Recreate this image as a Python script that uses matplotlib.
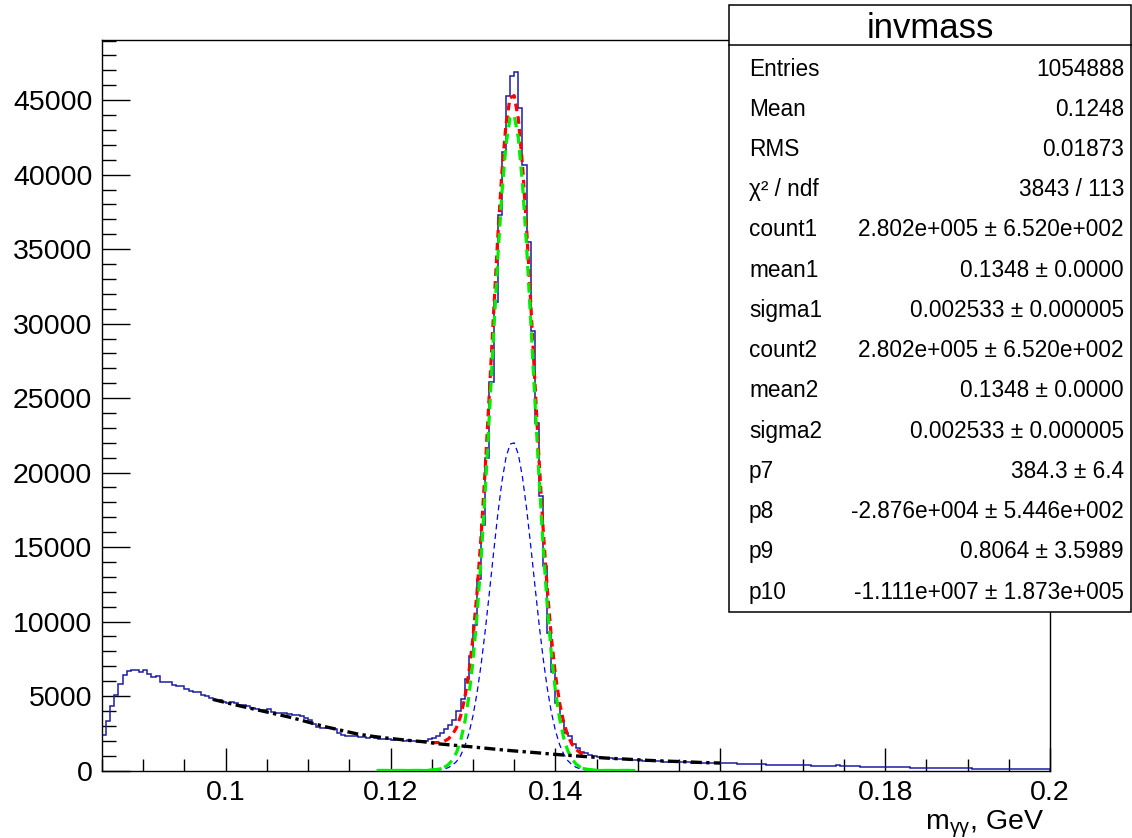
import numpy as np
import matplotlib
matplotlib.use("Agg")
import matplotlib.pyplot as plt
from matplotlib.patches import Rectangle
from matplotlib.lines import Line2D
from matplotlib.ticker import MultipleLocator

plt.rcParams['font.family'] = ['Liberation Sans', 'DejaVu Sans']
plt.rcParams['mathtext.fontset'] = 'custom'
plt.rcParams['mathtext.rm'] = 'Liberation Sans'
plt.rcParams['mathtext.it'] = 'Liberation Sans:italic'

# ---------------- data ----------------
hist_edges = np.linspace(0.085, 0.2, 231)   # 230 bins of 0.0005 GeV
hist_counts = [
    2350, 3340, 4300, 5040, 5830, 6430, 6700, 6770, 6770, 6610,
    6730, 6480, 6280, 6370, 5940, 5940, 5940, 5760, 5650, 5650,
    5470, 5310, 5250, 5250, 5090, 4980, 4870, 4750, 4710, 4600,
    4530, 4600, 4530, 4420, 4370, 4300, 4190, 4150, 4080, 4050,
    4100, 3900, 3880, 3870, 3850, 3800, 3720, 3700, 3650, 3550,
    3400, 3150, 2900, 2880, 2870, 2850, 2800, 2500, 2400, 2330,
    2330, 2300, 2230, 2220, 2200, 2230, 2200, 2120, 2100, 2110,
    2080, 2100, 2050, 2000, 2020, 1990, 2000, 1980, 2000, 2100,
    2180, 2300, 2550, 2800, 3050, 3400, 4000, 4770, 6150, 7700,
    9800, 12840, 16490, 21010, 26050, 31430, 37320, 41550, 45270, 46620,
    46890, 44490, 40660, 35500, 29520, 23320, 18430, 13730, 9200, 6600,
    4500, 3300, 2500, 2300, 1800, 1500, 1250, 1150, 1050, 950,
    900, 860, 840, 830, 800, 770, 760, 750, 710, 700,
    690, 650, 640, 630, 650, 620, 590, 580, 580, 570,
    560, 540, 540, 530, 540, 510, 500, 500, 490, 500,
    480, 480, 470, 480, 460, 450, 440, 440, 430, 440,
    410, 400, 400, 390, 400, 380, 380, 370, 380, 360,
    350, 340, 330, 330, 320, 310, 300, 330, 340, 330,
    300, 280, 270, 270, 260, 250, 250, 240, 240, 230,
    230, 220, 220, 220, 210, 210, 200, 200, 200, 190,
    190, 180, 140, 180, 190, 180, 150, 150, 190, 180,
    160, 130, 120, 120, 115, 115, 110, 110, 105, 105,
    100, 100, 95, 95, 90, 90, 90, 85, 85, 80,
]

# background (black dash-dot)
bg_x = [0.0985, 0.100, 0.102, 0.104, 0.106, 0.108, 0.110, 0.112, 0.114, 0.116,
        0.118, 0.120, 0.122, 0.124, 0.126, 0.128, 0.130, 0.132, 0.134, 0.136,
        0.138, 0.140, 0.142, 0.144, 0.146, 0.148, 0.150, 0.152, 0.154, 0.156,
        0.158, 0.160]
bg_y = [4770, 4560, 4300, 4050, 3800, 3550, 3250, 2950, 2700, 2450,
        2280, 2150, 2030, 1930, 1780, 1680, 1580, 1470, 1360, 1270,
        1180, 1080, 1000, 920, 840, 780, 720, 660, 620, 580,
        530, 500]

# signal (green dashed), x from 0.1185 to 0.1495 in 0.0005 steps
sig_x = np.round(np.arange(0.1185, 0.14951, 0.0005), 4)
sig_y = [0] * 13 + [
    25, 52, 106, 206, 385, 694, 1200, 2001, 3206, 4944,
    7326, 10445, 14330, 18884, 23960, 29224, 34280, 38684, 41980, 43822,
    43993, 42476, 39448, 35234, 30260, 25004, 19872, 15186, 11161, 7886,
    5366, 3508, 2207, 1337, 777, 434, 234, 121, 60, 28,
] + [0] * 10

# single gaussian component (blue dotted)
g1_y = [0] * 13 + [
    12, 26, 53, 103, 192, 347, 600, 1000, 1603, 2472,
    3663, 5222, 7165, 9442, 11980, 14612, 17140, 19342, 20990, 21911,
    21996, 21238, 19724, 17617, 15130, 12502, 9936, 7593, 5580, 3943,
    2683, 1754, 1103, 668, 388, 217, 117, 60, 30, 14,
] + [0] * 10

# total fit (red dashed)
tot_x = np.round(np.arange(0.1250, 0.14351, 0.0005), 4)
tot_y = [1875, 1870, 1886, 1961, 2115, 2399, 2880, 3656, 4836, 6549,
         8906, 11997, 15855, 20381, 25430, 30666, 35695, 40071, 43340, 45159,
         45308, 43768, 40718, 36481, 31485, 26206, 21052, 16341, 12291, 8991,
         6446, 4568, 3247, 2357, 1777, 1414, 1194, 1071]

stat_labels = ['Entries', 'Mean', 'RMS', 'χ² / ndf', 'count1', 'mean1', 'sigma1',
               'count2', 'mean2', 'sigma2', 'p7', 'p8', 'p9', 'p10']
stat_values = ['1054888', '0.1248', '0.01873', '3843 / 113',
               '2.802e+005 ± 6.520e+002', '0.1348 ± 0.0000', '0.002533 ± 0.000005',
               '2.802e+005 ± 6.520e+002', '0.1348 ± 0.0000', '0.002533 ± 0.000005',
               '384.3 ± 6.4', '-2.876e+004 ± 5.446e+002', '0.8064 ± 3.5989',
               '-1.111e+007 ± 1.873e+005']
x_ticks = [0.1, 0.12, 0.14, 0.16, 0.18, 0.2]
x_tick_labels = ['0.1', '0.12', '0.14', '0.16', '0.18', '0.2']

# ---------------- figure ----------------
W, H = 1132, 838
fig = plt.figure(figsize=(W / 100, H / 100), dpi=100)
ax = fig.add_axes([102 / W, 1 - 770.5 / H, (1050 - 102) / W, (770.5 - 40) / H])

hist_color = '#1c1ca6'
ax.stairs(hist_counts, hist_edges, color=hist_color, lw=1.1, zorder=2)

sig_y_arr = np.array(sig_y, dtype=float)
g1_arr = np.array(g1_y, dtype=float)
ax.plot(sig_x, g1_arr, color='#0000ff', lw=0.9, ls=(0, (4.5, 3.2)), zorder=3)
ax.plot(tot_x, tot_y, color='#ff0000', lw=2.3, ls=(0, (2.4, 1.6)), zorder=4)
ax.plot(sig_x, np.where(sig_y_arr < 130, sig_y_arr, np.nan), color='#00ee00',
        lw=2.3, ls='-', zorder=4)
ax.plot(sig_x, sig_y_arr, color='#00ee00', lw=2.3, ls=(0, (3.2, 2.0)), zorder=5)
ax.plot(bg_x, bg_y, color='black', lw=2.4, ls=(0, (3.3, 1.3, 1.0, 1.3)), zorder=6)

ax.set_xlim(0.085, 0.2)
ax.set_ylim(0, 49040)

ax.set_xticks(x_ticks)
ax.set_xticklabels(x_tick_labels)
ax.xaxis.set_minor_locator(MultipleLocator(0.005))
ax.yaxis.set_major_locator(MultipleLocator(5000))
ax.yaxis.set_minor_locator(MultipleLocator(1000))

ax.tick_params(axis='both', which='both', direction='in', top=False, right=False,
               width=1.0, colors='black', labelsize=20.5)
ax.tick_params(axis='x', which='major', length=16.5, pad=7)
ax.tick_params(axis='x', which='minor', length=8.5)
ax.tick_params(axis='y', which='major', length=20, pad=7)
ax.tick_params(axis='y', which='minor', length=10)
for sp in ax.spines.values():
    sp.set_linewidth(1.0)

fig.text(1044 / W, 1 - 829 / H, r'm$_{\mathrm{γγ}}$, GeV', ha='right', va='baseline',
         fontsize=20.5)

# ---------------- stats box ----------------
bx0, bx1 = 729 / W, 1131 / W
by0, by1 = 1 - 612 / H, 1 - 5 / H
fig.add_artist(Rectangle((bx0, by0), bx1 - bx0, by1 - by0, transform=fig.transFigure,
                         facecolor='white', edgecolor='black', lw=1.1, zorder=10))
fig.add_artist(Line2D([bx0, bx1], [1 - 45 / H, 1 - 45 / H], transform=fig.transFigure,
                      color='black', lw=1.1, zorder=11))
fig.text((bx0 + bx1) / 2, 1 - 28 / H, 'invmass', ha='center', va='center',
         fontsize=25, zorder=12)
row_y = np.linspace(69, 592, len(stat_labels))
for lab, val, yy in zip(stat_labels, stat_values, row_y):
    fig.text(749 / W, 1 - yy / H, lab, ha='left', va='center', fontsize=16.3, zorder=12)
    fig.text(1124 / W, 1 - yy / H, val, ha='right', va='center', fontsize=16.3, zorder=12)

fig.savefig('out.png', dpi=100)
